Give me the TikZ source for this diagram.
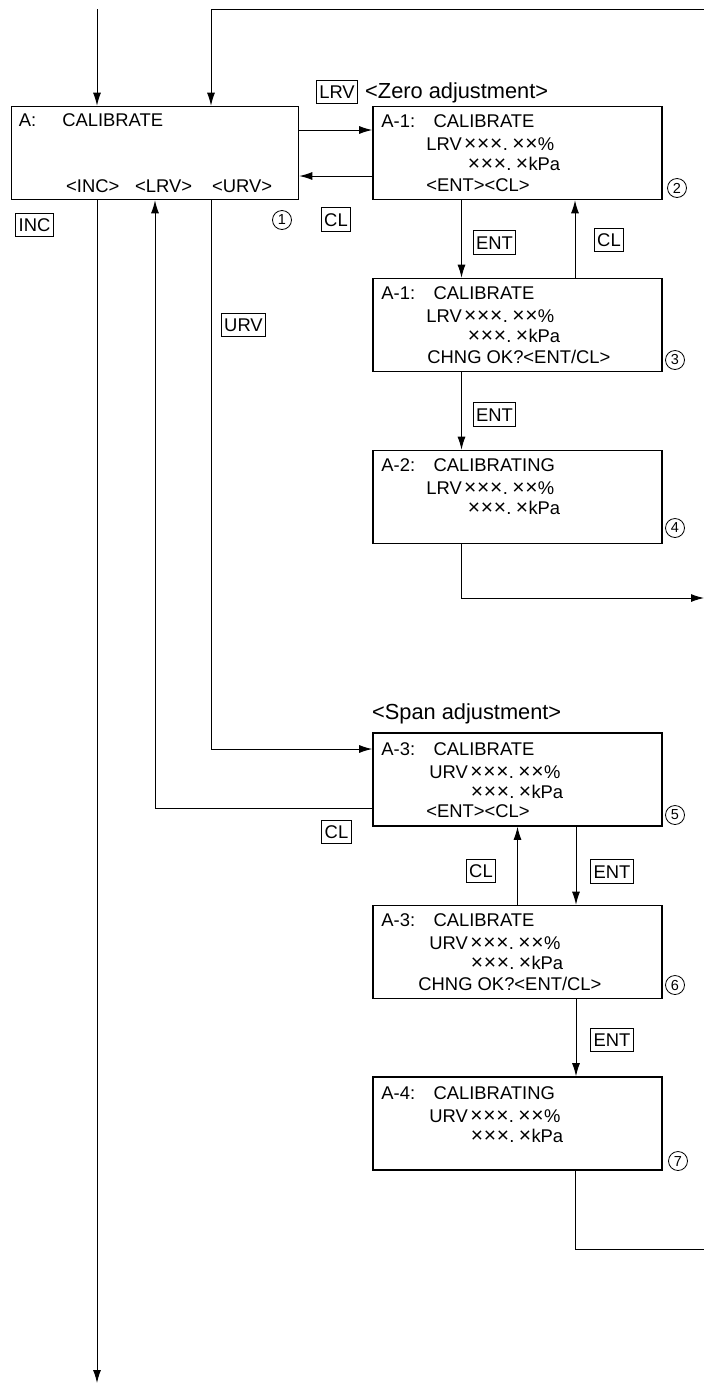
\documentclass[tikz,border=0pt]{standalone}
\usepackage{fontspec}
\setmainfont{Liberation Sans}
\usetikzlibrary{arrows.meta}

\newcommand{\xdig}{\makebox[13pt]{\fontsize{21}{21}\selectfont ×}}

\tikzset{
  screen/.style={draw, line width=1.6pt, minimum width=289pt, minimum height=93pt, inner sep=0pt},
  keybox/.style={draw, line width=0.9pt, inner xsep=3pt, inner ysep=5pt, text height=13.3pt, text depth=0pt},
  line/.style={anchor=base west, inner sep=0pt},
  head/.style={anchor=base west, inner sep=0pt, font=\fontsize{21.8}{24}\selectfont},
  stepno/.style={circle, draw, line width=0.8pt, minimum size=19pt, inner sep=0pt, font=\fontsize{14.5}{14.5}\selectfont},
  wire/.style={line width=1pt}
}

\begin{document}
\begin{tikzpicture}[x=1pt, y=-1pt, >={Latex[length=13pt,width=8pt]}, font=\fontsize{18.4}{22}\selectfont]

\useasboundingbox (0,0) rectangle (704,1385);

\coordinate (inTop) at (97,9);
\coordinate (retR) at (704,9);
\coordinate (outZero) at (704,598);
\coordinate (outSpan) at (704,1249);
\coordinate (outInc) at (97,1383);

%main screen
\node[screen, minimum width=287pt] (calA) at (155,153) {};
\node[line] (calAa) at ([shift={(8,21)}]calA.north west) {A:\hspace{26pt}CALIBRATE};
\node[line] (calAb) at (66,192) {<INC>};
\node[line] (calAc) at (135,192) {<LRV>};
\node[line] (calAd) at (212,192) {<URV>};
\node[stepno] (no1) at (282,220) {1};

%zero adjustment
\node[head] (zeroHead) at (365,98) {<Zero adjustment>};
\node[screen] (zero1) at (517.5,153) {};
\node[line] (zero1a) at ([shift={(9,22)}]zero1.north west) {A-1:\quad CALIBRATE};
\node[line] (zero1b) at ([shift={(54,45)}]zero1.north west) {LRV\hspace{2pt}\xdig\xdig\xdig.\hspace{4pt}\xdig\xdig\%};
\node[line] (zero1c) at ([shift={(95,65)}]zero1.north west) {\xdig\xdig\xdig.\hspace{4pt}\xdig kPa};
\node[line] (zero1d) at ([shift={(54,86)}]zero1.north west) {<ENT><CL>};
\node[stepno] (no2) at (677,188) {2};

\node[screen] (zero2) at (517.5,325) {};
\node[line] (zero2a) at ([shift={(9,22)}]zero2.north west) {A-1:\quad CALIBRATE};
\node[line] (zero2b) at ([shift={(54,45)}]zero2.north west) {LRV\hspace{2pt}\xdig\xdig\xdig.\hspace{4pt}\xdig\xdig\%};
\node[line] (zero2c) at ([shift={(95,65)}]zero2.north west) {\xdig\xdig\xdig.\hspace{4pt}\xdig kPa};
\node[line] (zero2d) at ([shift={(55,86)}]zero2.north west) {CHNG OK?<ENT/CL>};
\node[stepno] (no3) at (675,360) {3};

\node[screen] (zero3) at (517.5,497) {};
\node[line] (zero3a) at ([shift={(9,22)}]zero3.north west) {A-2:\quad CALIBRATING};
\node[line] (zero3b) at ([shift={(54,45)}]zero3.north west) {LRV\hspace{2pt}\xdig\xdig\xdig.\hspace{4pt}\xdig\xdig\%};
\node[line] (zero3c) at ([shift={(95,65)}]zero3.north west) {\xdig\xdig\xdig.\hspace{4pt}\xdig kPa};
\node[stepno] (no4) at (675,528) {4};

%span adjustment
\node[head] (spanHead) at (372,719) {<Span adjustment>};
\node[screen] (span1) at (517.5,779.5) {};
\node[line] (span1a) at ([shift={(9,23)}]span1.north west) {A-3:\quad CALIBRATE};
\node[line] (span1b) at ([shift={(57,46)}]span1.north west) {URV\hspace{2pt}\xdig\xdig\xdig.\hspace{4pt}\xdig\xdig\%};
\node[line] (span1c) at ([shift={(98,66)}]span1.north west) {\xdig\xdig\xdig.\hspace{4pt}\xdig kPa};
\node[line] (span1d) at ([shift={(54,85)}]span1.north west) {<ENT><CL>};
\node[stepno] (no5) at (675,815) {5};

\node[screen] (span2) at (517.5,952) {};
\node[line] (span2a) at ([shift={(9,22)}]span2.north west) {A-3:\quad CALIBRATE};
\node[line] (span2b) at ([shift={(57,45)}]span2.north west) {URV\hspace{2pt}\xdig\xdig\xdig.\hspace{4pt}\xdig\xdig\%};
\node[line] (span2c) at ([shift={(98,65)}]span2.north west) {\xdig\xdig\xdig.\hspace{4pt}\xdig kPa};
\node[line] (span2d) at ([shift={(46,86)}]span2.north west) {CHNG OK?<ENT/CL>};
\node[stepno] (no6) at (675,985) {6};

\node[screen] (span3) at (517.5,1123.5) {};
\node[line] (span3a) at ([shift={(9,23)}]span3.north west) {A-4:\quad CALIBRATING};
\node[line] (span3b) at ([shift={(57,46)}]span3.north west) {URV\hspace{2pt}\xdig\xdig\xdig.\hspace{4pt}\xdig\xdig\%};
\node[line] (span3c) at ([shift={(98,66)}]span3.north west) {\xdig\xdig\xdig.\hspace{4pt}\xdig kPa};
\node[stepno] (no7) at (678,1161) {7};

%keys
\node[keybox] (kInc) at (34.5,225) {INC};
\node[keybox] (kLrv) at (337,92) {LRV};
\node[keybox] (kCl1) at (336,219.5) {CL};
\node[keybox] (kUrv) at (243.5,325) {URV};
\node[keybox] (kEnt1) at (494.5,242.5) {ENT};
\node[keybox] (kCl2) at (609,240) {CL};
\node[keybox] (kEnt2) at (494.5,414.5) {ENT};
\node[keybox] (kCl3) at (336.5,832) {CL};
\node[keybox] (kCl4) at (481,871) {CL};
\node[keybox] (kEnt3) at (612,871.5) {ENT};
\node[keybox] (kEnt4) at (612,1040) {ENT};

%connections
\draw[wire,->] (inTop) -- (calA.north -| inTop);
\draw[wire,->] (retR) -| ([xshift=56pt]calA.north);
\draw[wire,->] ([yshift=23pt]calA.east) -- ([yshift=23pt]zero1.west);
\draw[wire,->] ([yshift=-23pt]zero1.west) -- ([yshift=-23pt]calA.east);
\draw[wire,->] ([xshift=-56pt]zero1.south) -- ([xshift=-56pt]zero2.north);
\draw[wire,->] ([xshift=57.5pt]zero2.north) -- ([xshift=57.5pt]zero1.south);
\draw[wire,->] ([xshift=-56pt]zero2.south) -- ([xshift=-56pt]zero3.north);
\draw[wire,->] ([xshift=-56pt]zero3.south) |- (outZero);

\draw[wire,->] ([xshift=56pt]calA.south) |- ([yshift=30.5pt]span1.west);
\draw[wire,->] ([yshift=-28.5pt]span1.west) -| (calA.south);
\draw[wire,->] ([xshift=-58pt]calA.south) -- (outInc);
\draw[wire,->] ([xshift=58.5pt]span1.south) -- ([xshift=58.5pt]span2.north);
\draw[wire,->] (span2.north) -- (span1.south);
\draw[wire,->] ([xshift=58.5pt]span2.south) -- ([xshift=58.5pt]span3.north);
\draw[wire] ([xshift=57.5pt]span3.south) |- (outSpan);

\end{tikzpicture}
\end{document}
